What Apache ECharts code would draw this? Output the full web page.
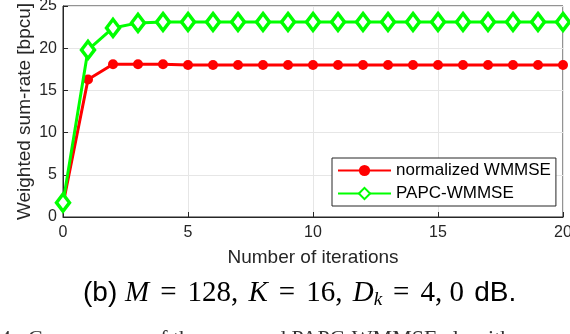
<!DOCTYPE html>
<html><head><meta charset="utf-8">
<script src="https://cdn.jsdelivr.net/npm/echarts@6/dist/echarts.min.js"></script>
<style>html,body{margin:0;padding:0;background:#fff}#c{width:570px;height:334px}</style>
</head><body><div id="c"></div>
<script>
const iterations = [0,1,2,3,4,5,6,7,8,9,10,11,12,13,14,15,16,17,18,19,20];
const normalizedWMMSE = [1.5,16.3,18.1,18.1,18.1,18.0,18.0,18.0,18.0,18.0,18.0,18.0,18.0,18.0,18.0,18.0,18.0,18.0,18.0,18.0,18.0];
const papcWMMSE = [1.7,19.8,22.4,23.0,23.1,23.1,23.1,23.1,23.1,23.1,23.1,23.1,23.1,23.1,23.1,23.1,23.1,23.1,23.1,23.1,23.1];
const seriesNames = ['normalized WMMSE','PAPC-WMMSE'];

const pairs = arr => iterations.map((x,i)=>[x,arr[i]]);
const chart = echarts.init(document.getElementById('c'), null, {renderer:'canvas'});
const sans = 'Liberation Sans, Arial, sans-serif';
const serif = 'Liberation Serif, Times New Roman, serif';
chart.setOption({
  animation:false,
  backgroundColor:'#fff',
  grid:{left:63,right:7,top:6,bottom:117,outerBoundsMode:'none',containLabel:false,
    show:true,borderColor:'#262626',borderWidth:1,backgroundColor:'transparent'},
  xAxis:{type:'value',min:0,max:20,interval:5,
    name:'Number of iterations',nameLocation:'middle',nameGap:31,nameMoveOverlap:false,
    nameTextStyle:{fontFamily:sans,fontSize:19,color:'#262626'},
    axisLine:{show:true,lineStyle:{color:'#262626',width:1}},
    axisTick:{show:true,inside:true,length:5,lineStyle:{color:'#262626'}},
    axisLabel:{fontFamily:sans,fontSize:16,color:'#262626',margin:8},
    splitLine:{show:true,lineStyle:{color:'#e6e6e6',width:1}}},
  yAxis:{type:'value',min:0,max:25,interval:5,
    name:'Weighted sum-rate [bpcu]',nameLocation:'middle',nameGap:29,nameMoveOverlap:false,
    nameTextStyle:{fontFamily:sans,fontSize:19,color:'#262626'},
    axisLine:{show:true,lineStyle:{color:'#262626',width:1}},
    axisTick:{show:true,inside:true,length:5,lineStyle:{color:'#262626'}},
    axisLabel:{fontFamily:sans,fontSize:16,color:'#262626',margin:6},
    splitLine:{show:true,lineStyle:{color:'#e6e6e6',width:1}}},
  legend:{orient:'vertical',left:332,top:158,
    backgroundColor:'#fff',borderColor:'#262626',borderWidth:1,borderRadius:0,
    padding:[4,5,4,5],itemGap:6,itemWidth:53,itemHeight:14,
    textStyle:{fontFamily:sans,fontSize:17,color:'#000'},
    data:seriesNames},
  series:[
    {name:seriesNames[0],type:'line',data:pairs(normalizedWMMSE),
     symbol:'circle',symbolSize:10,showAllSymbol:true,
     lineStyle:{color:'#ff0000',width:3},
     itemStyle:{color:'#ff0000',borderColor:'#ff0000',borderWidth:0},z:2},
    {name:seriesNames[1],type:'line',data:pairs(papcWMMSE),
     symbol:'diamond',symbolSize:[13,17],showAllSymbol:true,
     lineStyle:{color:'#00ff00',width:3},
     itemStyle:{color:'#ffffff',borderColor:'#00ff00',borderWidth:3.5},z:3}
  ],
  graphic:[
    {type:'text',left:83,top:279,style:{
      text:'{s|(b) }{m|M}{e|=}{n|128, }{m|K}{e|=}{n|16, }{m|D}{sub|k}{e|=}{n|4, 0 }{s|dB.}',
      rich:{
        s:{fontFamily:sans,fontSize:28,fill:'#000'},
        m:{fontFamily:serif,fontStyle:'italic',fontSize:29,fill:'#000'},
        n:{fontFamily:serif,fontSize:29,fill:'#000',padding:[0,3,0,0]},
        e:{fontFamily:serif,fontSize:29,fill:'#000',padding:[0,11,0,11]},
        sub:{fontFamily:serif,fontStyle:'italic',fontSize:19,fill:'#000',padding:[12,0,0,0]}
      }}},
    {type:'text',left:0,top:328,style:{text:'4.',fontFamily:serif,fontSize:22,fill:'#333'}},
    {type:'text',left:28,top:328,style:{text:'Convergence of the proposed PAPC-WMMSE algorithm',
      fontFamily:serif,fontSize:22,fill:'#333'}}
  ]
});
</script></body></html>
